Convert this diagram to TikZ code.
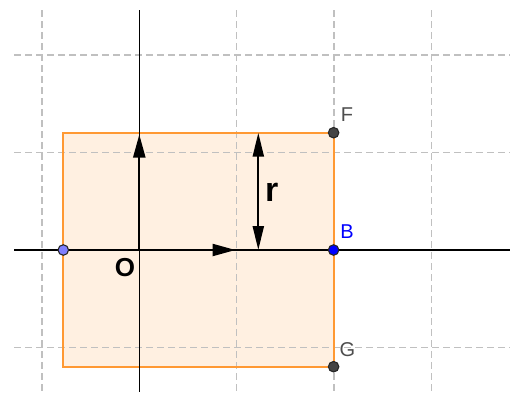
\documentclass[tikz,border=0pt]{standalone}
\usepackage{fontspec}
\setmainfont{Liberation Sans}
\usetikzlibrary{arrows.meta}
\definecolor{gridgray}{HTML}{C0C0C0}
\definecolor{rectorange}{HTML}{FF9933}
\definecolor{ptdark}{HTML}{444444}
\definecolor{ptlight}{HTML}{7F7FFF}
\definecolor{lbldark}{HTML}{4D4D4D}
\tikzset{
  gridline/.style={gridgray, line width=1.4pt, dash pattern=on 7pt off 4pt},
  axisline/.style={black, line width=1.6pt},
  vecline/.style={black, line width=2.2pt, -{Triangle[length=23pt,width=12pt]}},
  radline/.style={black, line width=2.2pt, {Triangle[length=24pt,width=11pt]}-{Triangle[length=24pt,width=11pt]}},
  gpoint/.style={circle, inner sep=0pt, minimum size=10.5pt, draw=black!85, line width=1.1pt},
  ptlabel/.style={inner sep=0pt, font=\fontsize{20}{20}\selectfont},
}
\begin{document}
\begin{tikzpicture}[x=1pt,y=-1pt]
\useasboundingbox (0,0) rectangle (510,392);
% rectangle fill
\fill[rectorange, fill opacity=0.15] (63.3,132.7) rectangle (333.6,366.7);
% grid
\foreach \gx in {42,139.3,236.6,333.9,431.2}
  \draw[gridline] (\gx,10) -- (\gx,392);
\foreach \gy in {55,152.5,250,347.5}
  \draw[gridline] (14,\gy) -- (510,\gy);
% rectangle border
\draw[rectorange, line width=2pt] (63.3,132.7) rectangle (333.6,366.7);
% axes
\coordinate (xl) at (14,250);
\coordinate (xr) at (510,250);
\coordinate (yt) at (139.3,10);
\coordinate (yb) at (139.3,392);
\draw[axisline] (xl) -- (xr);
\draw[axisline] (yt) -- (yb);
% vectors
\coordinate (O) at (139.3,250);
\coordinate (vx) at (235.5,250);
\coordinate (vy) at (139.3,134.5);
\draw[vecline] (O) -- (vx);
\draw[vecline] (O) -- (vy);
% radius arrow
\coordinate (rt) at (258.3,132.7);
\coordinate (rb) at (258.3,250);
\draw[radline] (rb) -- (rt);
% points
\node[gpoint, fill=ptdark] (F) at (333.6,132.7) {};
\node[gpoint, fill=blue] (B) at (333.6,250) {};
\node[gpoint, fill=ptdark] (G) at (333.6,366.7) {};
\node[gpoint, fill=ptlight] (L) at (63.3,250) {};
% labels
\node[ptlabel, text=lbldark] (Flbl) at (347,114.7) {F};
\node[ptlabel, text=blue] (Blbl) at (347,231.2) {B};
\node[ptlabel, text=lbldark] (Glbl) at (347.5,350) {G};
\node[inner sep=0pt, font=\bfseries\fontsize{26}{26}\selectfont] (Olbl) at (125,267.3) {O};
\node[inner sep=0pt, font=\bfseries\fontsize{34}{34}\selectfont] (rlbl) at (271.7,192.5) {r};
\end{tikzpicture}
\end{document}
